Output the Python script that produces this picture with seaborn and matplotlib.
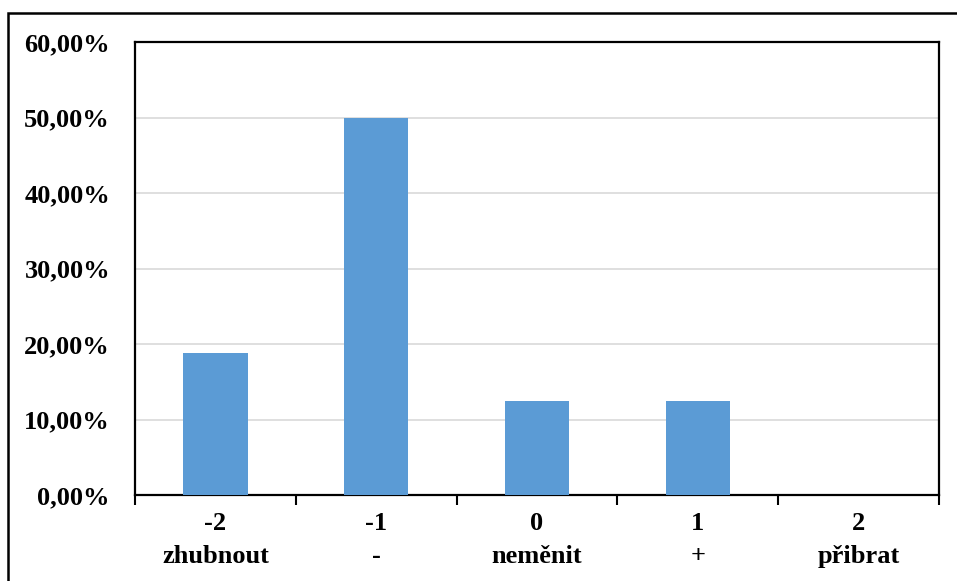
import matplotlib
matplotlib.use("Agg")
import matplotlib.pyplot as plt
import matplotlib.ticker as mticker
import seaborn as sns
import pandas as pd

# data
codes = ["-2", "-1", "0", "1", "2"]
names = ["zhubnout", "-", "neměnit", "+", "přibrat"]
shares = [0.1875, 0.50, 0.125, 0.125, 0.0]

labels = [f"{c}\n{n}" for c, n in zip(codes, names)]
df = pd.DataFrame({"kat": labels, "podil": shares})

sns.set_theme(style="white")
plt.rcParams["font.family"] = ["Liberation Serif", "DejaVu Serif"]
plt.rcParams["font.weight"] = "bold"
plt.rcParams["text.color"] = "black"
plt.rcParams["xtick.color"] = "black"
plt.rcParams["ytick.color"] = "black"

fig = plt.figure(figsize=(9.57, 5.81), dpi=100)
ax = fig.add_axes([135 / 957, 1 - 495 / 581, 804 / 957, 453 / 581])

sns.barplot(data=df, x="kat", y="podil", color="#5B9BD5", width=0.4,
            saturation=1, linewidth=0, ax=ax, zorder=3)

ax.set_xlim(-0.5, 4.5)
ax.set_ylim(0, 0.6)
ax.set_yticks([0, 0.1, 0.2, 0.3, 0.4, 0.5, 0.6])
ax.yaxis.set_major_formatter(
    mticker.FuncFormatter(lambda v, p: f"{v * 100:.2f}".replace(".", ",") + "%"))
ax.grid(axis="y", color="#D9D9D9", linewidth=1.2, zorder=0)
ax.set_axisbelow(True)
ax.set_xlabel("")
ax.set_ylabel("")

ax.tick_params(axis="y", length=0, pad=18, labelsize=19, labelcolor="black")
ax.tick_params(axis="x", which="major", length=0, pad=12, labelsize=19,
               labelcolor="black")
ax.set_xticks([-0.5, 0.5, 1.5, 2.5, 3.5, 4.5], minor=True)
ax.tick_params(axis="x", which="minor", bottom=True, length=7, width=1.5,
               color="black", direction="out")
for t in ax.get_xticklabels():
    t.set_linespacing(1.6)
    t.set_fontweight("bold")
for t in ax.get_yticklabels():
    t.set_fontweight("bold")

for s in ax.spines.values():
    s.set_visible(True)
    s.set_color("black")
    s.set_linewidth(1.6)

# outer chart border
fig.patches.append(plt.Rectangle((8 / 957, -0.1), 1.2, 1 - 13 / 581 + 0.1,
                                 transform=fig.transFigure, fill=False,
                                 edgecolor="black", linewidth=1.8))

fig.savefig("out.png", dpi=100)
